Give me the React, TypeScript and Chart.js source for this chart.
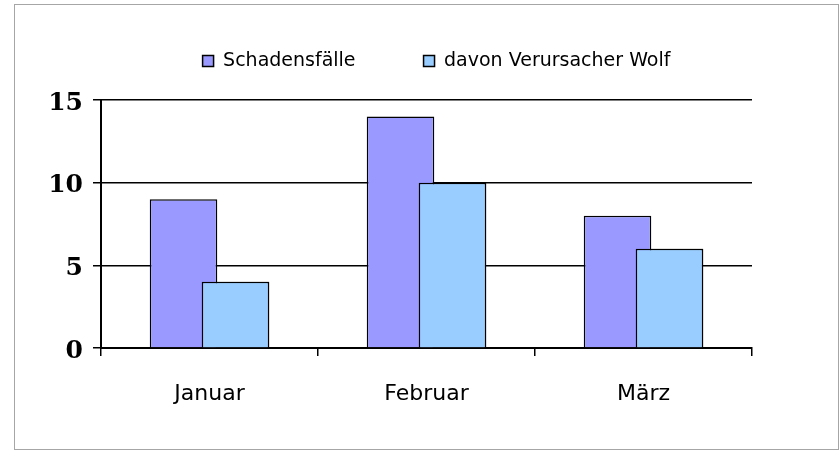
import React, { useEffect, useRef } from "react";
import { Chart, registerables } from "chart.js";

Chart.register(...registerables);

const categories = ["Januar", "Februar", "März"];
const seriesNames = ["Schadensfälle", "davon Verursacher Wolf"];
const schadensfaelle = [9, 14, 8];
const verursacherWolf = [4, 10, 6];
const yMin = 0;
const yMax = 15;
const yStep = 5;

const framePlugin = {
  id: "frame",
  beforeDraw(chart: any) {
    const ctx = chart.ctx;
    ctx.save();
    ctx.fillStyle = "#ffffff";
    ctx.fillRect(0, 0, chart.width, chart.height);
    ctx.strokeStyle = "#a6a6a6";
    ctx.lineWidth = 1;
    ctx.strokeRect(14.5, 4.5, 824, 445);
    ctx.restore();
  },
  afterLayout(chart: any) {
    const lg = chart.legend;
    if (!lg) return;
    const w = lg.right - lg.left;
    const cx = 436.5;
    lg.left = cx - w / 2;
    lg.right = cx + w / 2;
    lg.top = -16.5;
    lg.bottom = 95;
  },
  afterDatasetsDraw(chart: any) {
    // the second series overlaps the first one, as in the original
    const meta = chart.getDatasetMeta(1);
    if (meta && meta.controller) meta.controller.draw();
  },
};

export default function App() {
  const ref = useRef<HTMLCanvasElement | null>(null);

  useEffect(() => {
    if (!ref.current) return;
    const chart = new Chart(ref.current, {
      type: "bar",
      data: {
        labels: categories,
        datasets: [
          {
            label: seriesNames[0],
            data: schadensfaelle,
            backgroundColor: "#9999ff",
            borderColor: "#000000",
            borderWidth: 1.5,
          },
          {
            label: seriesNames[1],
            data: verursacherWolf,
            backgroundColor: "#99ccff",
            borderColor: "#000000",
            borderWidth: 1.5,
          },
        ],
      },
      options: {
        animation: false,
        responsive: false,
        devicePixelRatio: 1,
        categoryPercentage: 0.479,
        barPercentage: 1.3,
        layout: { padding: { top: 40, left: 0, right: 87, bottom: 44 } },
        plugins: {
          tooltip: { enabled: false },
          legend: {
            display: true,
            position: "top",
            maxHeight: 60,
            labels: {
              boxWidth: 11,
              boxHeight: 11,
              padding: 68,
              color: "#000000",
              font: { family: "'DejaVu Sans'", size: 19 },
            },
          },
        },
        scales: {
          x: {
            type: "category",
            offset: true,
            afterFit: (s: any) => {
              s.height = 60;
            },
            grid: {
              display: true,
              offset: true,
              drawOnChartArea: false,
              drawTicks: true,
              tickLength: 8,
              color: "#000000",
              lineWidth: 1.5,
            },
            border: { display: true, color: "#000000", width: 2 },
            ticks: {
              color: "#000000",
              padding: 25,
              font: { family: "'DejaVu Sans'", size: 22 },
              maxRotation: 0,
            },
          },
          y: {
            min: yMin,
            max: yMax,
            afterFit: (s: any) => {
              s.width = 101;
            },
            grid: {
              display: true,
              drawTicks: true,
              tickLength: 8,
              color: "#000000",
              lineWidth: 1.5,
            },
            border: { display: true, color: "#000000", width: 2 },
            ticks: {
              stepSize: yStep,
              color: "#000000",
              padding: 10,
              labelOffset: 3,
              font: { family: "'DejaVu Serif'", size: 25, weight: "bold" },
            },
          },
        },
      },
      plugins: [framePlugin],
    });
    return () => chart.destroy();
  }, []);

  return (
    <div style={{ position: "fixed", left: 0, top: 0, width: 839, height: 452, background: "#fff" }}>
      <canvas ref={ref} width={839} height={452} style={{ display: "block" }} />
    </div>
  );
}
